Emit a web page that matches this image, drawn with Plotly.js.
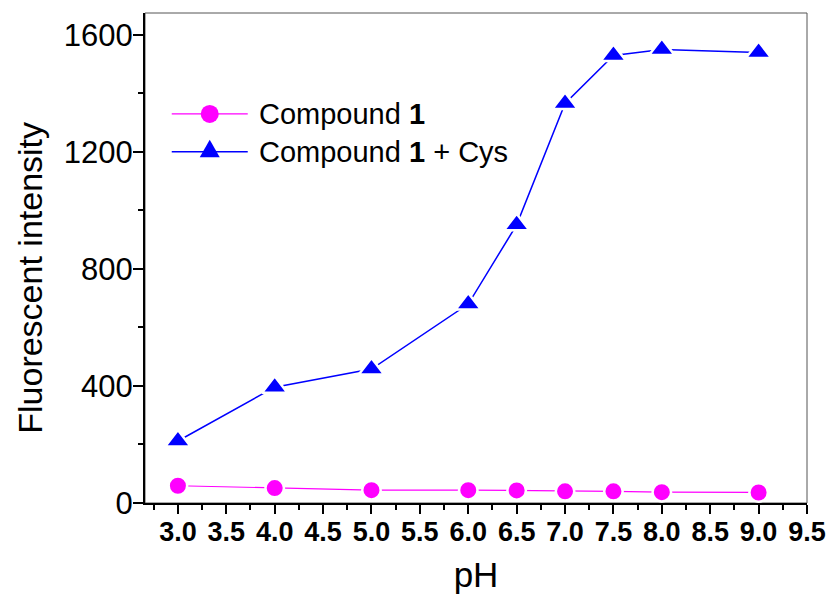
<!DOCTYPE html>
<html>
<head>
<meta charset="utf-8">
<script src="https://cdn.plot.ly/plotly-3.0.1.min.js"></script>
<style>
  html, body { margin: 0; padding: 0; background: #fff; }
  #chart { width: 828px; height: 602px; }
</style>
</head>
<body>
<div id="chart"></div>
<script>
// pH values of the measured solutions
const pH = [3.0, 4.0, 5.0, 6.0, 6.5, 7.0, 7.5, 8.0, 9.0];
// fluorescent intensity of the probe alone
const compound1 = [59, 51, 44, 44, 43, 40, 40, 37, 36];
// fluorescent intensity of the probe after adding cysteine
const compound1Cys = [212, 396, 458, 680, 951, 1366, 1530, 1550, 1540];

const seriesNames = ['Compound <b>1</b>', 'Compound <b>1</b> + Cys'];
const yTitle = 'Fluorescent intensity';
const MAGENTA = '#FF00FF';
const BLUE = '#0000FF';
const FONT = 'Liberation Sans, Arial, sans-serif';

const traces = [
  {
    x: pH, y: compound1, name: seriesNames[0], type: 'scatter', mode: 'lines+markers',
    line: { color: MAGENTA, width: 1.2 },
    marker: { symbol: 'circle', size: 18.5, color: MAGENTA, line: { color: '#fff', width: 2.5 } },
    showlegend: false, cliponaxis: false
  },
  {
    x: pH, y: compound1Cys, name: seriesNames[1], type: 'scatter', mode: 'lines+markers',
    line: { color: BLUE, width: 1.5 },
    marker: { symbol: 'triangle-up', size: 22, color: BLUE, line: { color: '#fff', width: 2.5 } },
    showlegend: false, cliponaxis: false
  }
];

// key entries drawn in the upper-left corner of the plot area
const keyX0 = 0.0404, keyX1 = 0.1552, keyMarkX = 0.0978, keyTextX = 0.1688;
const keyRows = [0.794, 0.717];

const shapes = [
  // thin grey frame closing the top and right sides
  { type: 'rect', xref: 'paper', yref: 'paper', x0: 0, x1: 1, y0: 0, y1: 1,
    line: { color: '#555', width: 1 }, layer: 'below' },
  { type: 'line', xref: 'paper', yref: 'paper', x0: keyX0, x1: keyX1, y0: keyRows[0], y1: keyRows[0],
    line: { color: MAGENTA, width: 1.2 } },
  { type: 'line', xref: 'paper', yref: 'paper', x0: keyX0, x1: keyX1, y0: keyRows[1], y1: keyRows[1],
    line: { color: BLUE, width: 1.5 } },
  { type: 'circle', xref: 'paper', yref: 'paper', xsizemode: 'pixel', ysizemode: 'pixel',
    xanchor: keyMarkX, yanchor: keyRows[0], x0: -9, x1: 9, y0: -9, y1: 9,
    fillcolor: MAGENTA, line: { width: 0 } },
  { type: 'path', xref: 'paper', yref: 'paper', xsizemode: 'pixel', ysizemode: 'pixel',
    xanchor: keyMarkX, yanchor: keyRows[1], path: 'M-10,-5.5 L10,-5.5 L0,12 Z',
    fillcolor: BLUE, line: { width: 0 } }
];

const annotations = seriesNames.map((name, i) => ({
  xref: 'paper', yref: 'paper', x: keyTextX, y: keyRows[i],
  xanchor: 'left', yanchor: 'middle', text: name, showarrow: false,
  font: { family: FONT, size: 29, color: '#000' }
}));

// vertical axis title, sitting a little below the middle of the axis
annotations.push({
  xref: 'paper', yref: 'paper', x: -0.175, y: 0.46,
  xanchor: 'center', yanchor: 'middle', textangle: -90,
  text: yTitle, showarrow: false,
  font: { family: FONT, size: 34, color: '#000' }
});

const layout = {
  width: 828, height: 602,
  margin: { l: 145, r: 21, t: 13, b: 99 },
  paper_bgcolor: '#fff', plot_bgcolor: '#fff',
  showlegend: false,
  font: { family: FONT, color: '#000' },
  xaxis: {
    range: [2.66, 9.5], tick0: 3, dtick: 0.5, tickformat: '.1f',
    ticks: 'outside', ticklen: 9, tickwidth: 2, tickcolor: '#000',
    ticklabelstandoff: -5,
    minor: { dtick: 0.25, tick0: 3, ticks: 'outside', ticklen: 5, tickwidth: 2, tickcolor: '#000' },
    showline: true, linecolor: '#000', linewidth: 2,
    showgrid: false, zeroline: false,
    tickfont: { family: FONT, size: 27, color: '#000', weight: 'bold' },
    title: { text: 'pH', font: { family: FONT, size: 35, color: '#000' }, standoff: 16 }
  },
  yaxis: {
    range: [0, 1675], tick0: 0, dtick: 400,
    ticks: 'outside', ticklen: 10, tickwidth: 2, tickcolor: '#000',
    ticklabelstandoff: -6,
    minor: { dtick: 200, tick0: 0, ticks: 'outside', ticklen: 5, tickwidth: 2, tickcolor: '#000' },
    showline: true, linecolor: '#000', linewidth: 2,
    showgrid: false, zeroline: false,
    tickfont: { family: FONT, size: 31, color: '#000' }
  },
  shapes: shapes,
  annotations: annotations
};

Plotly.newPlot('chart', traces, layout, { displayModeBar: false, staticPlot: true });
</script>
</body>
</html>
